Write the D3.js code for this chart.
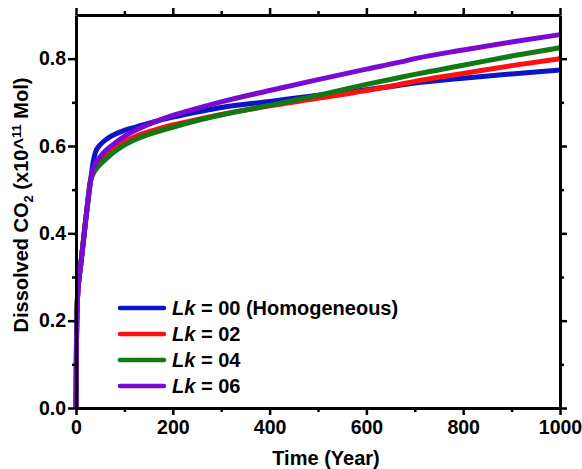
<!DOCTYPE html>
<html>
<head>
<meta charset="utf-8">
<script src="https://cdn.jsdelivr.net/npm/d3@7"></script>
<style>
  body { margin: 0; background: #fff; }
  text { font-family: Arial, "Liberation Sans", sans-serif; font-weight: bold; }
</style>
</head>
<body>
<div id="chart"></div>
<script>
var times = [0, 1, 3, 10, 20, 30, 35, 40, 50, 60, 75, 100, 125, 160, 200, 256, 300, 400, 500, 600, 669, 700, 800, 900, 1000];
var lk00 = [0, 0.15, 0.25, 0.33, 0.43, 0.52, 0.56, 0.585, 0.603, 0.613, 0.624, 0.636, 0.644, 0.655, 0.666, 0.679, 0.688, 0.702, 0.716, 0.729, 0.739, 0.744, 0.755, 0.765, 0.774];
var lk02 = [0, 0.15, 0.25, 0.33, 0.43, 0.52, 0.54, 0.552, 0.568, 0.58, 0.595, 0.61, 0.623, 0.636, 0.648, 0.662, 0.672, 0.692, 0.709, 0.727, 0.741, 0.748, 0.766, 0.784, 0.8];
var lk04 = [0, 0.15, 0.25, 0.33, 0.43, 0.52, 0.535, 0.545, 0.558, 0.568, 0.583, 0.602, 0.616, 0.63, 0.643, 0.66, 0.671, 0.693, 0.716, 0.741, 0.757, 0.764, 0.785, 0.806, 0.825];
var lk06 = [0, 0.15, 0.25, 0.33, 0.43, 0.52, 0.545, 0.56, 0.575, 0.588, 0.602, 0.622, 0.637, 0.654, 0.67, 0.688, 0.701, 0.727, 0.752, 0.776, 0.792, 0.8, 0.82, 0.838, 0.855];
var seriesNames = ['00 (Homogeneous)', '02', '04', '06'];
var seriesColors = ['#0a14c8', '#ff1010', '#0f7a14', '#7a0ad2'];
var xTicks = [0, 200, 400, 600, 800, 1000];
var yTicks = [0, 0.2, 0.4, 0.6, 0.8];

var W = 582, H = 469;
var mLeft = 76, mRight = 560, mTop = 15, mBottom = 408;

var svg = d3.select('#chart').append('svg')
  .attr('width', W).attr('height', H);

var x = d3.scaleLinear().domain([0, 1000]).range([mLeft, mRight]);
var y = d3.scaleLinear().domain([0, 0.9]).range([mBottom, mTop]);

var series = [lk00, lk02, lk04, lk06].map(function (vals, i) {
  return { name: seriesNames[i], color: seriesColors[i],
    pts: times.map(function (t, j) { return [t, vals[j]]; }) };
});

var line = d3.line()
  .x(d => x(d[0]))
  .y(d => y(d[1]))
  .curve(d3.curveMonotoneX);

svg.append('g').selectAll('path')
  .data(series).enter().append('path')
  .attr('d', d => line(d.pts))
  .attr('fill', 'none')
  .attr('stroke', d => d.color)
  .attr('stroke-width', 5)
  .attr('stroke-linejoin', 'round');

// axes, ticks on all four sides pointing outward
function styleAxis(g) {
  g.select('.domain').attr('stroke', '#000').attr('stroke-width', 3);
  g.selectAll('.tick line').attr('stroke', '#000').attr('stroke-width', 2.5);
  g.selectAll('.tick text').attr('font-size', 19.5).attr('fill', '#000');
}
function minorStyle(g) {
  g.select('.domain').remove();
  g.selectAll('line').attr('stroke', '#000').attr('stroke-width', 2.5);
}

var xMinor = d3.range(100, 1000, 200);
var yMinor = [0.1, 0.3, 0.5, 0.7];

var gx = svg.append('g').attr('transform', 'translate(0,' + mBottom + ')')
  .call(d3.axisBottom(x).tickValues(xTicks).tickSize(7).tickSizeOuter(0).tickPadding(5)
    .tickFormat(d3.format('d')));
styleAxis(gx);
svg.append('g').attr('transform', 'translate(0,' + mBottom + ')')
  .call(d3.axisBottom(x).tickValues(xMinor).tickSize(4).tickFormat(''))
  .call(minorStyle);

var gt = svg.append('g').attr('transform', 'translate(0,' + mTop + ')')
  .call(d3.axisTop(x).tickValues(xTicks).tickSize(7).tickSizeOuter(0).tickFormat(''));
styleAxis(gt);
svg.append('g').attr('transform', 'translate(0,' + mTop + ')')
  .call(d3.axisTop(x).tickValues(xMinor).tickSize(4).tickFormat(''))
  .call(minorStyle);

var gy = svg.append('g').attr('transform', 'translate(' + mLeft + ',0)')
  .call(d3.axisLeft(y).tickValues(yTicks).tickSize(8).tickSizeOuter(0).tickPadding(2)
    .tickFormat(d3.format('.1f')));
styleAxis(gy);
svg.append('g').attr('transform', 'translate(' + mLeft + ',0)')
  .call(d3.axisLeft(y).tickValues(yMinor).tickSize(4).tickFormat(''))
  .call(minorStyle);

var gr = svg.append('g').attr('transform', 'translate(' + mRight + ',0)')
  .call(d3.axisRight(y).tickValues(yTicks).tickSize(7).tickSizeOuter(0).tickFormat(''));
styleAxis(gr);
svg.append('g').attr('transform', 'translate(' + mRight + ',0)')
  .call(d3.axisRight(y).tickValues(yMinor).tickSize(4).tickFormat(''))
  .call(minorStyle);

// axis titles
svg.append('text')
  .attr('x', 326).attr('y', 465)
  .attr('text-anchor', 'middle').attr('font-size', 20)
  .text('Time (Year)');

var yl = svg.append('text')
  .attr('transform', 'translate(28,' + 205 + ') rotate(-90)')
  .attr('text-anchor', 'middle').attr('font-size', 20);
yl.append('tspan').text('Dissolved CO');
yl.append('tspan').attr('font-size', 13).attr('dy', 5).text('2');
yl.append('tspan').attr('dy', -5).text(' (x10^');
yl.append('tspan').attr('font-size', 13).attr('dy', -7).text('11');
yl.append('tspan').attr('dy', 7).text(' Mol)');

// legend
var legend = svg.append('g').selectAll('g')
  .data(series).enter().append('g')
  .attr('transform', (d, i) => 'translate(120,' + (308 + i * 26) + ')');
legend.append('line')
  .attr('x1', 0).attr('x2', 44)
  .attr('stroke', d => d.color).attr('stroke-width', 4.5)
  .attr('stroke-linecap', 'round');
var lt = legend.append('text')
  .attr('x', 52).attr('y', 7).attr('font-size', 20);
lt.append('tspan').attr('font-style', 'italic').text('Lk');
lt.append('tspan').text(d => ' = ' + d.name);
</script>
</body>
</html>
